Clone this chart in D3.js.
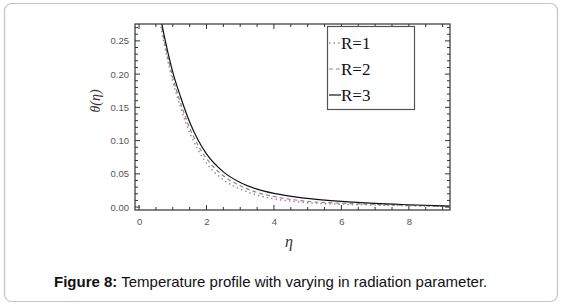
<!DOCTYPE html>
<html><head><meta charset="utf-8">
<script src="https://cdn.jsdelivr.net/npm/d3@7"></script>
<style>body{margin:0;background:#fff;}svg{display:block;}</style>
</head><body>
<svg id="c" width="564" height="307"></svg>
<script>
const eta = [0.6,0.8,1.0,1.25,1.5,1.75,2.0,2.5,3.0,3.5,4.0,5.0,6.0,7.0,8.0,9.0,9.2];
const r1 = [0.285,0.232,0.189,0.147,0.112,0.086,0.066,0.041,0.027,0.018,0.0125,0.0065,0.0042,0.003,0.002,0.001,0.0008];
const r2 = [0.29,0.238,0.195,0.154,0.119,0.093,0.073,0.047,0.032,0.022,0.016,0.0085,0.0058,0.004,0.0025,0.0013,0.001];
const r3 = [0.295,0.245,0.203,0.163,0.128,0.101,0.080,0.053,0.037,0.027,0.0205,0.013,0.0085,0.0055,0.0035,0.0018,0.0015];
const seriesNames = ["R=1","R=2","R=3"];
const xTicks = [0,2,4,6,8];
const yTicks = [0.00,0.05,0.10,0.15,0.20,0.25];

const svg = d3.select("#c");
svg.append("rect").attr("x",4.5).attr("y",3.5).attr("width",553).attr("height",298)
  .attr("rx",7).attr("fill","#fff").attr("stroke","#c4c4c4").attr("stroke-width",1.2);

const L=135,R=450,T=24,B=210;
const x = d3.scaleLinear().domain([-0.12,9.22]).range([L,R]);
const y = d3.scaleLinear().domain([-0.0044,0.2754]).range([B,T]);

const axisCol="#333";
const g = svg.append("g");
const xMinor = d3.range(0,9.01,0.5);
const yMinor = d3.range(0,0.2701,0.01);
xMinor.forEach(v=>{
  const maj = Math.abs(v/2-Math.round(v/2))<1e-6;
  const len = maj?5:3;
  g.append("line").attr("x1",x(v)).attr("x2",x(v)).attr("y1",B).attr("y2",B-len).attr("stroke",axisCol);
  g.append("line").attr("x1",x(v)).attr("x2",x(v)).attr("y1",T).attr("y2",T+len).attr("stroke",axisCol);
});
yMinor.forEach(v=>{
  const maj = Math.abs(v/0.05-Math.round(v/0.05))<1e-6;
  const len = maj?5:3;
  g.append("line").attr("y1",y(v)).attr("y2",y(v)).attr("x1",L).attr("x2",L+len).attr("stroke",axisCol);
  g.append("line").attr("y1",y(v)).attr("y2",y(v)).attr("x1",R).attr("x2",R-len).attr("stroke",axisCol);
});
g.append("rect").attr("x",L).attr("y",T).attr("width",R-L).attr("height",B-T)
  .attr("fill","none").attr("stroke",axisCol).attr("stroke-width",1.2);

const xa = svg.append("g").attr("transform",`translate(0,${B})`)
  .call(d3.axisBottom(x).tickValues(xTicks).tickSize(0).tickPadding(8).tickFormat(d3.format("d")));
const ya = svg.append("g").attr("transform",`translate(${L},0)`)
  .call(d3.axisLeft(y).tickValues(yTicks).tickSize(0).tickPadding(6).tickFormat(d3.format(".2f")));
[xa,ya].forEach(a=>{
  a.select(".domain").remove();
  a.selectAll("text").attr("font-family","'Liberation Sans',Arial,sans-serif").attr("font-size",9.5).attr("fill","#555");
});

svg.append("clipPath").attr("id","clip").append("rect").attr("x",L).attr("y",T).attr("width",R-L).attr("height",B-T);
const line = d3.line().curve(d3.curveMonotoneX).x(d=>x(d[0])).y(d=>y(d[1]));
const styles = [
  {data:r1,color:"#b07aae",dash:"1.5,3",w:1.4},
  {data:r2,color:"#8a8a8a",dash:"4,3",w:1.2},
  {data:r3,color:"#111",dash:null,w:1.2}
];
const pg = svg.append("g").attr("clip-path","url(#clip)");
styles.forEach(s=>{
  pg.append("path").datum(eta.map((e,i)=>[e,s.data[i]])).attr("d",line)
    .attr("fill","none").attr("stroke",s.color).attr("stroke-width",s.w)
    .attr("stroke-dasharray",s.dash);
});

svg.append("rect").attr("x",327.5).attr("y",26.5).attr("width",87).attr("height",83)
  .attr("fill","#fff").attr("stroke","#555").attr("stroke-width",1.2);
seriesNames.forEach((n,i)=>{
  const s = styles[i];
  const ly = 43 + i*26;
  svg.append("line").attr("x1",329).attr("x2",341).attr("y1",ly).attr("y2",ly)
    .attr("stroke",s.color).attr("stroke-width",s.w).attr("stroke-dasharray",s.dash);
  svg.append("text").attr("x",341).attr("y",ly+6).text(n)
    .attr("font-family","'Liberation Serif',serif").attr("font-size",17).attr("fill","#111");
});

svg.append("text").attr("transform","translate(100,101) rotate(-90)").attr("text-anchor","middle")
  .attr("font-family","'Liberation Serif',serif").attr("font-style","italic").attr("font-size",14).attr("fill","#333")
  .text("θ(η)");
svg.append("text").attr("x",289).attr("y",247).attr("text-anchor","middle")
  .attr("font-family","'Liberation Serif',serif").attr("font-style","italic").attr("font-size",16).attr("fill","#333")
  .text("η");

const cap = svg.append("text").attr("x",54).attr("y",287)
  .attr("font-family","'Liberation Sans',Arial,sans-serif").attr("font-size",15).attr("fill","#111");
cap.append("tspan").attr("font-weight","bold").text("Figure 8:");
cap.append("tspan").text(" Temperature profile with varying in radiation parameter.");
</script>
</body></html>
